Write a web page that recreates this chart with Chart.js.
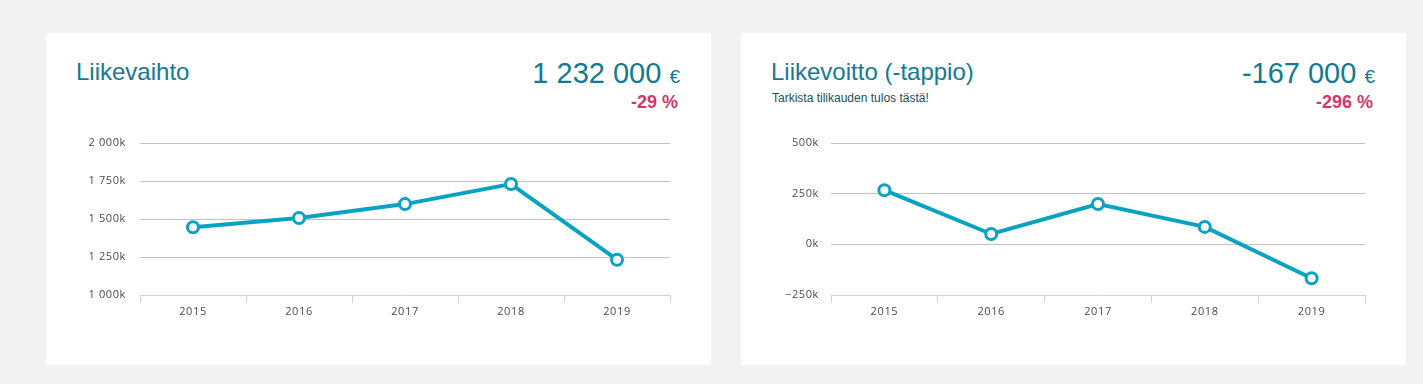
<!DOCTYPE html>
<html>
<head>
<meta charset="utf-8">
<script src="https://cdn.jsdelivr.net/npm/chart.js@4"></script>
<style>
  html, body { margin: 0; padding: 0; }
  body { width: 1423px; height: 384px; background: #f3f3f3; position: relative; overflow: hidden; font-family: "Liberation Sans", Arial, sans-serif; }
  .card { position: absolute; top: 33px; width: 665px; height: 332px; background: #fff; }
  .title { position: absolute; left: 30px; top: 27px; font-size: 24px; line-height: 24px; color: #137a92; white-space: nowrap; }
  .sub { position: absolute; left: 31px; top: 59px; font-size: 12px; line-height: 12px; color: #1d4f5e; white-space: nowrap; }
  .num { position: absolute; right: 31px; top: 26px; font-size: 29px; line-height: 29px; color: #137a92; white-space: nowrap; text-align: right; }
  .num .eur { font-size: 19px; }
  .pct { position: absolute; right: 33px; top: 60px; font-size: 18px; line-height: 18px; font-weight: bold; color: #d3376a; white-space: nowrap; text-align: right; }
  canvas { position: absolute; left: 14px; top: 97px; }
</style>
</head>
<body>
<div class="card" style="left:46px">
  <div class="title">Liikevaihto</div>
  <div class="num">1 232 000 <span class="eur">€</span></div>
  <div class="pct">-29 %</div>
  <canvas id="c1" width="630" height="200"></canvas>
</div>
<div class="card" style="left:741px">
  <div class="title">Liikevoitto (-tappio)</div>
  <div class="sub">Tarkista tilikauden tulos tästä!</div>
  <div class="num">-167 000 <span class="eur">€</span></div>
  <div class="pct">-296 %</div>
  <canvas id="c2" width="630" height="200"></canvas>
</div>
<script>
const years = ['2015', '2016', '2017', '2018', '2019'];
const revenue = [1446000, 1507000, 1598000, 1730000, 1232000];
const ebit = [267000, 51000, 199000, 86000, -167000];
const revenueTicks = [1000000, 1250000, 1500000, 1750000, 2000000];
const ebitTicks = [-250000, 0, 250000, 500000];

const LINE = '#0aa2c2';
const GRID = '#c2c2c2';
const AXIS = '#c6d4e3';
const LABEL = '#4a4a4a';

function fmtK(v) {
  const k = Math.round(v / 1000);
  const s = Math.abs(k).toString().replace(/\B(?=(\d{3})+(?!\d))/g, ' ');
  return (k < 0 ? '\u2212' : '') + s + 'k';
}

const spacing = {
  id: 'spacing',
  beforeDraw: chart => { chart.ctx.letterSpacing = '0.6px'; },
  beforeDatasetsDraw: chart => { chart.ctx.letterSpacing = '0px'; }
};

function makeChart(id, data, ticks, yWidth, yPad) {
  const min = Math.min(...ticks), max = Math.max(...ticks);
  return new Chart(document.getElementById(id), {
    type: 'line',
    data: {
      labels: years,
      datasets: [{
        data: data,
        borderColor: LINE,
        borderWidth: 4,
        tension: 0,
        pointRadius: 5.5,
        pointHoverRadius: 5.5,
        pointBorderWidth: 3,
        pointBorderColor: LINE,
        pointBackgroundColor: '#fff',
        fill: false
      }]
    },
    plugins: [spacing],
    options: {
      responsive: false,
      animation: false,
      devicePixelRatio: 1,
      layout: { autoPadding: false, padding: { top: 13, right: 20, left: 0, bottom: 0 } },
      plugins: { legend: { display: false }, tooltip: { enabled: false } },
      scales: {
        x: {
          type: 'category',
          offset: true,
          grid: { display: true, offset: true, drawOnChartArea: false, drawTicks: true, tickLength: 8, color: AXIS, lineWidth: 1 },
          border: { display: true, color: AXIS, width: 1 },
          ticks: { color: LABEL, font: { family: 'Open Sans', size: 11 }, padding: 2, maxRotation: 0 },
          afterFit: s => { s.height = 35; s.paddingLeft = 0; s.paddingRight = 0; }
        },
        y: {
          min: min, max: max,
          afterBuildTicks: axis => { axis.ticks = ticks.map(v => ({ value: v })); },
          grid: { drawTicks: false, color: c => (c.tick && c.tick.value === min) ? 'rgba(0,0,0,0)' : GRID, lineWidth: 1 },
          border: { display: false },
          ticks: { color: LABEL, font: { family: 'Open Sans', size: 11 }, padding: yPad, callback: v => fmtK(v) },
          afterFit: s => { s.width = yWidth; s.paddingTop = 0; s.paddingBottom = 0; }
        }
      }
    }
  });
}

makeChart('c1', revenue, revenueTicks, 80, 14);
makeChart('c2', ebit, ebitTicks, 76, 12);
</script>
</body>
</html>
